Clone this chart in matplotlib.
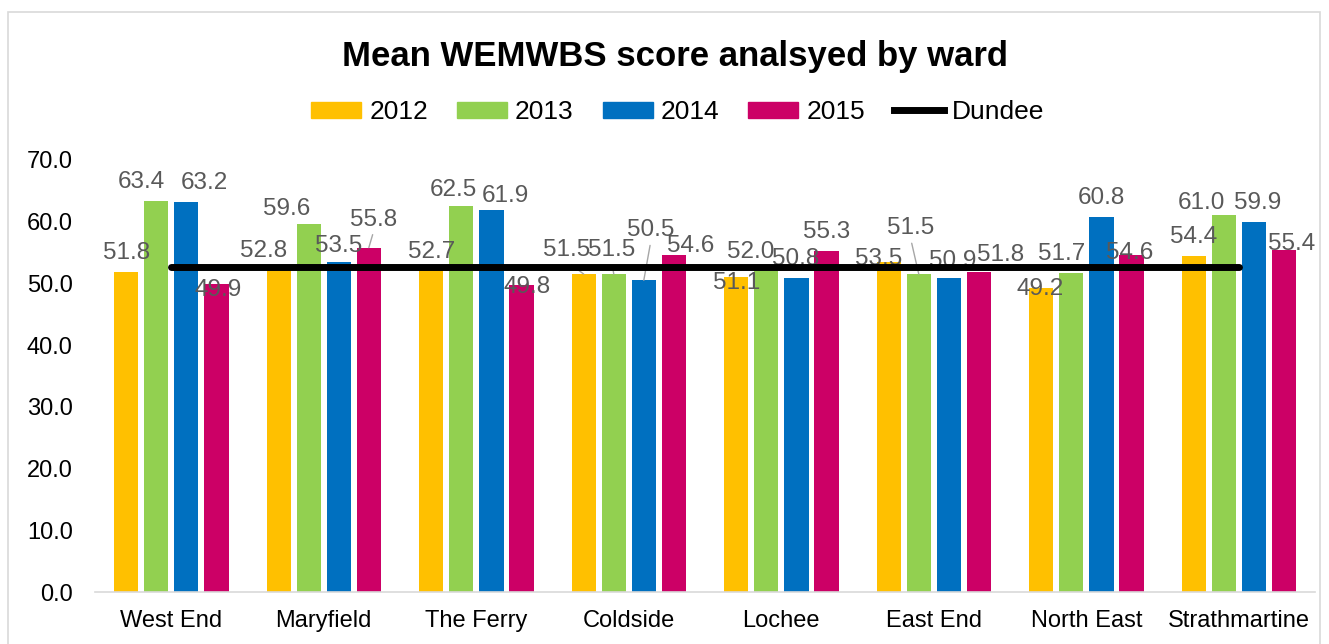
import numpy as np
import matplotlib.pyplot as plt
from matplotlib.patches import Rectangle
from matplotlib.lines import Line2D

plt.rcParams['font.family'] = ['Liberation Sans', 'DejaVu Sans']

wards = ['West End', 'Maryfield', 'The Ferry', 'Coldside', 'Lochee',
         'East End', 'North East', 'Strathmartine']
years = ['2012', '2013', '2014', '2015']
v2012 = [51.8, 52.8, 52.7, 51.5, 51.1, 53.5, 49.2, 54.4]
v2013 = [63.4, 59.6, 62.5, 51.5, 52.0, 51.5, 51.7, 61.0]
v2014 = [63.2, 53.5, 61.9, 50.5, 50.8, 50.9, 60.8, 59.9]
v2015 = [49.9, 55.8, 49.8, 54.6, 55.3, 51.8, 54.6, 55.4]
dundee = [52.7] * len(wards)

colours = ['#FFC000', '#92D050', '#0070C0', '#CC0066']
series = [v2012, v2013, v2014, v2015]

# label nudges in pixels (dx, dy) per ward, per year - Excel labels were dragged by hand
nudge = [
    [(0, 0), (-15, 0), (18, 0), (2, -25)],
    [(-15, -4), (-22, -4), (0, -3), (5, 9)],
    [(0, -4), (-8, -3), (14, -5), (6, -21)],
    [(-17, 5), (-2, 5), (7, 31), (17, -10)],
    [(0, -25), (-16, 0), (-1, 0), (0, 0)],
    [(-10, -16), (-8, 27), (4, -2), (22, -2)],
    [(-1, -20), (-10, 0), (0, 0), (-2, -17)],
    [(0, 0), (-22, -7), (4, 0), (8, -13)],
]
# labels that keep a leader line (ward index, year index)
leaders = [(1, 3), (3, 0), (3, 1), (3, 2), (5, 1)]

fig = plt.figure(figsize=(13.29, 6.44), dpi=100)
ax = fig.add_axes([0.0715, 0.0807, 0.918, 0.671])

x = np.arange(len(wards))
slot = 0.197
w = 0.16
for i, (vals, c, yr) in enumerate(zip(series, colours, years)):
    pos = x + (i - 1.5) * slot
    ax.bar(pos, vals, width=w, color=c, label=yr, zorder=2)
    for j, (px, v) in enumerate(zip(pos, vals)):
        dx, dy = nudge[j][i]
        kw = {}
        if (j, i) in leaders:
            kw['arrowprops'] = dict(arrowstyle='-', color='#A6A6A6', lw=1,
                                    relpos=(0.5, 0), shrinkA=1, shrinkB=0)
        ax.annotate(f'{v:.1f}', (px, v), xytext=(dx, 19 + dy), textcoords='offset pixels',
                    ha='center', va='center', fontsize=17.5, color='#595959', zorder=4, **kw)

# Dundee average sits on top of the labels, like in the Excel chart
ax.plot(x, dundee, color='black', lw=5, solid_capstyle='round', zorder=5, label='Dundee')

ax.set_xlim(-0.5, len(wards) - 0.5)
ax.set_ylim(0, 70)
ax.set_yticks(np.arange(0, 71, 10))
ax.set_yticklabels([f'{t:.1f}' for t in np.arange(0, 71, 10)])
ax.set_xticks(x)
ax.set_xticklabels(wards)
ax.tick_params(axis='both', length=0, labelsize=17, colors='#000000')
ax.tick_params(axis='y', pad=16)
ax.tick_params(axis='x', pad=13)
for s in ['top', 'right', 'left']:
    ax.spines[s].set_visible(False)
ax.spines['bottom'].set_color('#D9D9D9')
ax.spines['bottom'].set_linewidth(1.2)

fig.text(0.508, 0.913, 'Mean WEMWBS score analsyed by ward', ha='center', va='center',
         fontsize=25, fontweight='bold')

handles = [Rectangle((0, 0), 1, 1, color=c) for c in colours]
handles.append(Line2D([0], [0], color='black', lw=5))
fig.legend(handles, years + ['Dundee'], loc='center', bbox_to_anchor=(0.51, 0.826),
           ncol=5, frameon=False, fontsize=19, handlelength=1.9, handleheight=0.55,
           columnspacing=1.1, handletextpad=0.3, borderpad=0)

fig.patches.append(Rectangle((0.006, -0.05), 0.987, 1.031, transform=fig.transFigure,
                             fill=False, edgecolor='#D9D9D9', lw=1.2))

fig.savefig('out.png', dpi=100)
